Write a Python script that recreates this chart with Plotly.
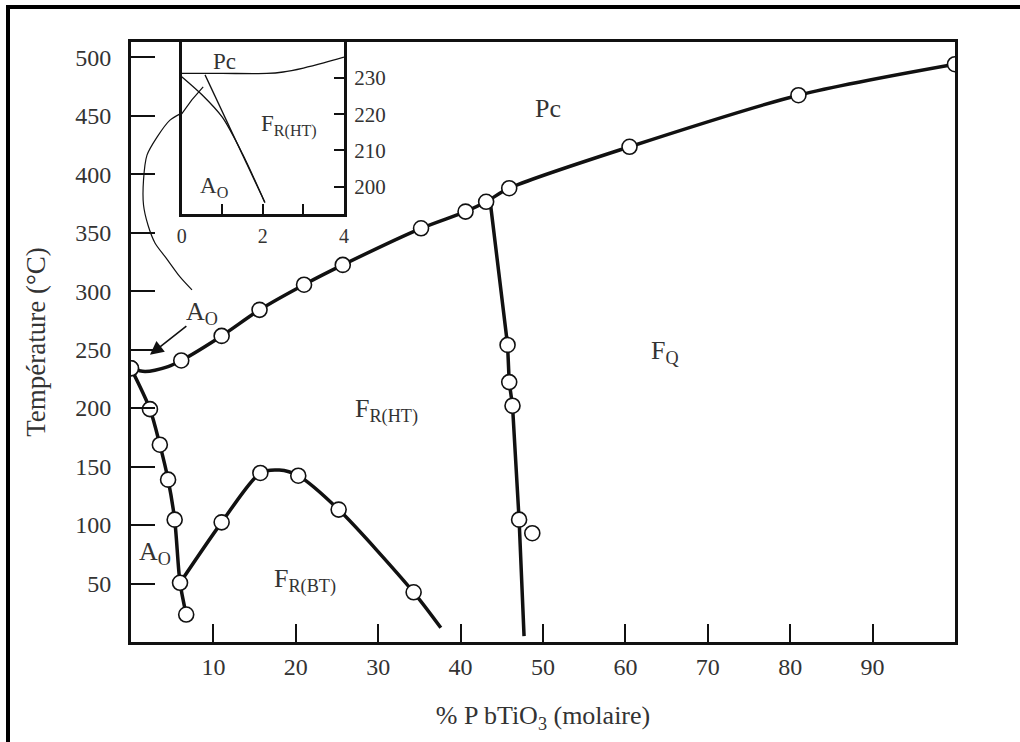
import plotly.graph_objects as go

# ---------------- data ----------------
# upper boundary (paraelectric cubic Pc transition)
upper_curve_x = [0, 1.7, 4.5, 6.1, 11.0, 15.6, 21.0, 25.7, 35.2, 40.6, 43.1, 45.9, 60.5, 81.0, 100]
upper_curve_T = [234, 231.3, 235.5, 240.7, 261.7, 284, 305.5, 322.4, 353.7, 368, 376.4, 388, 423.4, 467.5, 494]
upper_pts_x = [0, 6.1, 11.0, 15.6, 21.0, 25.7, 35.2, 40.6, 43.1, 45.9, 60.5, 81.0, 100]
upper_pts_T = [234, 240.7, 261.7, 284, 305.5, 322.4, 353.7, 368, 376.4, 388, 423.4, 467.5, 494]

# A_O / F_R(HT) boundary
left_x = [0, 2.3, 3.5, 4.5, 5.3, 5.95, 6.7]
left_T = [234, 199.1, 168.7, 138.8, 104.6, 50.6, 23.5]

# F_R(BT) dome
bt_curve_x = [5.95, 11.0, 15.7, 18.0, 20.3, 25.2, 34.3, 37.6]
bt_curve_T = [50.6, 102.3, 144.5, 147.0, 142.2, 113.2, 42.5, 12.2]
bt_pts_x = [11.0, 15.7, 20.3, 25.2, 34.3]
bt_pts_T = [102.3, 144.5, 142.2, 113.2, 42.5]

# F_R(HT) / F_Q boundary (morphotropic)
vert_curve_x = [43.6, 45.7, 45.9, 46.3, 47.1, 47.7]
vert_curve_T = [376, 254, 222.2, 202, 104.6, 5]
vert_pts_x = [45.7, 45.9, 46.3, 47.1, 48.7]
vert_pts_T = [254, 222.2, 202, 104.6, 93]

# thin leader curve from inset
thin_x = [6.15, 4.73, 3.16, 1.94, 1.52, 1.52, 2.06, 2.91, 4.25, 5.95, 7.4]
thin_T = [452.2, 446.2, 431.7, 416.3, 395, 373.6, 356.5, 341.2, 328.4, 312.1, 301]

# inset (0-4 %, 192-240 C)
ins_pc_x = [0, 1.0, 2.1, 2.5, 3.0, 3.5, 4.0]
ins_pc_T = [231.3, 231.3, 231.3, 231.7, 232.8, 234.2, 235.8]
ins_a_x = [0.575, 2.05]
ins_a_T = [230.9, 195.6]
ins_b_x = [0, 0.5, 1.0, 1.5, 2.05]
ins_b_T = [230.4, 225.4, 219.2, 209.0, 195.6]
ins_thin_x = [0, 0.25, 0.53]
ins_thin_T = [220.1, 224.0, 227.6]

x_ticks = [10, 20, 30, 40, 50, 60, 70, 80, 90]
y_ticks = [50, 100, 150, 200, 250, 300, 350, 400, 450, 500]
ins_x_ticks = [0, 2, 4]
ins_x_minor = [1, 3]
ins_y_ticks = [200, 210, 220, 230]

FONT = "Liberation Serif"
INK = "#111111"
TXT = "#333333"

fig = go.Figure()

def curve(x, y, width=3.5, shape="spline", xa="x", ya="y"):
    fig.add_trace(go.Scatter(x=x, y=y, mode="lines", xaxis=xa, yaxis=ya,
                             line=dict(color=INK, width=width, shape=shape, smoothing=0.8),
                             hoverinfo="skip", showlegend=False))

def points(x, y):
    fig.add_trace(go.Scatter(x=x, y=y, mode="markers",
                             marker=dict(symbol="circle", size=15, color="white",
                                         line=dict(color=INK, width=1.6)),
                             showlegend=False))

curve(upper_curve_x, upper_curve_T)
curve(left_x, left_T)
curve(bt_curve_x, bt_curve_T)
curve(vert_curve_x, vert_curve_T, shape="linear")
curve(thin_x, thin_T, width=1.2)

points(upper_pts_x, upper_pts_T)
points(left_x, left_T)
points(bt_pts_x, bt_pts_T)
points(vert_pts_x, vert_pts_T)

# inset traces
curve(ins_pc_x, ins_pc_T, width=1.3, xa="x2", ya="y2")
curve(ins_a_x, ins_a_T, width=1.3, shape="linear", xa="x2", ya="y2")
curve(ins_b_x, ins_b_T, width=1.3, xa="x2", ya="y2")
curve(ins_thin_x, ins_thin_T, width=1.2, shape="linear", xa="x2", ya="y2")

# layout geometry
L, R, T, B = 131, 65, 42, 100
PW, PH = 1020 - L - R, 742 - T - B

def px(xp):
    return (xp - L) / PW

def py(yp):
    return (742 - B - yp) / PH

axis_common = dict(showline=True, linewidth=3, linecolor=INK, mirror=True,
                   ticks="inside", tickcolor=INK, showgrid=False, zeroline=False)

fig.update_layout(
    width=1020, height=742,
    margin=dict(l=L, r=R, t=T, b=B, pad=0),
    paper_bgcolor="white", plot_bgcolor="white",
    font=dict(family=FONT, color=TXT),
    showlegend=False,
    xaxis=dict(range=[0, 100], tickvals=x_ticks, ticklen=18, tickwidth=1.5,
               tickfont=dict(size=24, color=TXT), ticklabelstandoff=1,
               title=dict(text="% P bTiO<sub>3</sub> (molaire)", font=dict(size=26, color=TXT), standoff=28),
               **axis_common),
    yaxis=dict(range=[0, 513], tickvals=y_ticks, ticklen=24, tickwidth=1.5,
               tickfont=dict(size=24, color=TXT), ticklabelstandoff=12,
               title=dict(text="Température (°C)", font=dict(size=27, color=TXT), standoff=22),
               **axis_common),
    xaxis2=dict(domain=[px(181.7), px(344)], anchor="y2", range=[0, 4],
                tickvals=ins_x_ticks, ticklen=10, tickwidth=1.5,
                minor=dict(tickvals=ins_x_minor, ticks="inside", ticklen=10, tickwidth=1.5, tickcolor=INK),
                tickfont=dict(size=20, color=TXT), ticklabelstandoff=2,
                **axis_common),
    yaxis2=dict(domain=[py(214), 1.0], anchor="x2", side="right", range=[192.4, 240],
                tickvals=ins_y_ticks, ticklen=10, tickwidth=1.5,
                tickfont=dict(size=21, color=TXT), ticklabelstandoff=3,
                **axis_common),
)

# outer frame (top and left rules of the figure box)
fig.add_shape(type="line", xref="paper", yref="paper", x0=px(6), x1=px(1020), y0=py(7), y1=py(7),
              line=dict(color="black", width=4))
fig.add_shape(type="line", xref="paper", yref="paper", x0=px(8), x1=px(8), y0=py(5), y1=py(742),
              line=dict(color="black", width=4))

# region labels
def label(text, x, y, size=26, xref="x", yref="y"):
    fig.add_annotation(text=text, x=x, y=y, xref=xref, yref=yref, showarrow=False,
                       font=dict(family=FONT, size=size, color=TXT))

label("Pc", 50.6, 456)
label("F<sub>Q</sub>", 64.8, 248)
label("F<sub>R(HT)</sub>", 31.0, 198)
label("F<sub>R(BT)</sub>", 21.1, 53)
label("A<sub>O</sub>", 2.9, 76)
label("A<sub>O</sub>", 8.6, 281)

label("Pc", 1.05, 234.6, size=23, xref="x2", yref="y2")
label("F<sub>R(HT)</sub>", 2.65, 217, size=23, xref="x2", yref="y2")
label("A<sub>O</sub>", 0.8, 200, size=23, xref="x2", yref="y2")

fig.add_annotation(x=2.3, y=245.5, ax=6.9, ay=271, xref="x", yref="y", axref="x", ayref="y",
                   text="", showarrow=True, arrowhead=2, arrowsize=1.7, arrowwidth=1.6,
                   arrowcolor=INK)

fig.write_html("out.html")
